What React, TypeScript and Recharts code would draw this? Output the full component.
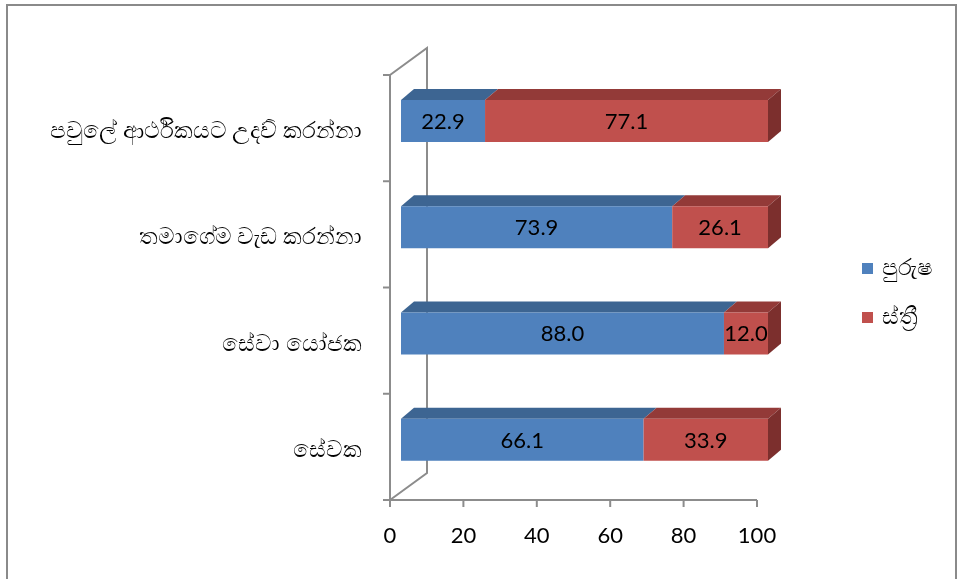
import { BarChart, Bar, XAxis, YAxis, LabelList, Customized } from "recharts";

const categories = [
  "පවුලේ ආර්ථිකයට උදව් කරන්නා",
  "තමාගේම වැඩ කරන්නා",
  "සේවා යෝජක",
  "සේවක",
];
const malePct = [22.9, 73.9, 88.0, 66.1];
const femalePct = [77.1, 26.1, 12.0, 33.9];
const seriesNames = ["පුරුෂ", "ස්ත්‍රී"];
const xTicks = [0, 20, 40, 60, 80, 100];

const data = categories.map((name, i) => ({ name, male: malePct[i], female: femalePct[i] }));

const W = 959;
const H = 579;
const margin = { top: 75, right: 202, bottom: 39, left: 0 };
const Y_AXIS_W = 390;
const X_AXIS_H = 40;
const plotLeft = margin.left + Y_AXIS_W;
const plotTop = margin.top;
const plotBottom = H - margin.bottom - X_AXIS_H;
const band = (plotBottom - plotTop) / categories.length;

// 3d look: bars sit a bit into the depth, back wall further
const FRONT_DX = 11;
const FRONT_DY = -7;
const DEPTH_X = 13;
const DEPTH_Y = -11;
const WALL_DX = 37;
const WALL_DY = -27;

const AXIS = "#8c8c8c";
const FONT = "Lato, 'Open Sans', sans-serif";

const blue = { front: "#4f81bd", top: "#3d6592", side: "#34577f" };
const red = { front: "#c0504d", top: "#933a38", side: "#7c2f2d" };

const make3DBar = (c: { front: string; top: string; side: string }, withSide: boolean) => (props: any) => {
  const { x, y, width, height } = props;
  if (!width || width <= 0) return <g />;
  const fx = x + FRONT_DX;
  const fy = y + FRONT_DY;
  return (
    <g>
      <polygon
        points={`${fx},${fy} ${fx + DEPTH_X},${fy + DEPTH_Y} ${fx + width + DEPTH_X},${fy + DEPTH_Y} ${fx + width},${fy}`}
        fill={c.top}
      />
      {withSide && (
        <polygon
          points={`${fx + width},${fy} ${fx + width + DEPTH_X},${fy + DEPTH_Y} ${fx + width + DEPTH_X},${fy + DEPTH_Y + height} ${fx + width},${fy + height}`}
          fill={c.side}
        />
      )}
      <rect x={fx} y={fy} width={width} height={height} fill={c.front} />
    </g>
  );
};

const renderValue = (props: any) => {
  const { x, y, width, height, value } = props;
  return (
    <text
      x={x + FRONT_DX + width / 2}
      y={y + FRONT_DY + height / 2}
      dy="0.36em"
      textAnchor="middle"
      fontSize={22}
      fontFamily={FONT}
      fill="#000"
    >
      {Number(value).toFixed(1)}
    </text>
  );
};

const CategoryTick = (props: any) => {
  const { y, payload, index } = props;
  const half = band / 2;
  return (
    <g>
      <line x1={plotLeft - 7} x2={plotLeft} y1={y - half} y2={y - half} stroke={AXIS} strokeWidth={2} />
      {index === categories.length - 1 && (
        <line x1={plotLeft - 7} x2={plotLeft} y1={y + half} y2={y + half} stroke={AXIS} strokeWidth={2} />
      )}
      <text x={plotLeft - 28} y={y + 2} dy="0.35em" textAnchor="end" fontSize={23} fill="#000">
        {payload.value}
      </text>
    </g>
  );
};

const Walls = () => (
  <polyline
    points={`${plotLeft},${plotTop} ${plotLeft + WALL_DX},${plotTop + WALL_DY} ${plotLeft + WALL_DX},${plotBottom + WALL_DY} ${plotLeft},${plotBottom}`}
    stroke={AXIS}
    strokeWidth={2}
    fill="none"
  />
);

const ChartLegend = () => (
  <div style={{ position: "fixed", left: 862, top: 253 }}>
    {seriesNames.map((n, i) => (
      <div key={n} style={{ display: "flex", alignItems: "center", height: 30, marginBottom: 19 }}>
        <span
          style={{
            width: 11,
            height: 11,
            background: i === 0 ? blue.front : red.front,
            marginRight: 9,
            display: "inline-block",
          }}
        />
        <span style={{ fontSize: 23, color: "#000" }}>{n}</span>
      </div>
    ))}
  </div>
);

export default function App() {
  return (
    <>
      <div
        style={{
          position: "fixed",
          left: 6,
          top: 4,
          width: 951,
          height: 620,
          border: "2px solid #8a8a8a",
          boxSizing: "border-box",
        }}
      />
      <div style={{ position: "fixed", left: 0, top: 0 }}>
        <BarChart width={W} height={H} data={data} layout="vertical" margin={margin}>
          <Customized component={Walls} />
          <XAxis
            type="number"
            domain={[0, 100]}
            ticks={xTicks}
            height={X_AXIS_H}
            tickSize={7}
            tickMargin={20}
            axisLine={{ stroke: AXIS, strokeWidth: 2 }}
            tickLine={{ stroke: AXIS, strokeWidth: 2 }}
            tick={{ fontSize: 22, fill: "#000", fontFamily: FONT }}
          />
          <YAxis
            type="category"
            dataKey="name"
            width={Y_AXIS_W}
            interval={0}
            tickSize={7}
            tickMargin={21}
            tickLine={false}
            axisLine={{ stroke: AXIS, strokeWidth: 2 }}
            tick={<CategoryTick />}
          />
          <Bar dataKey="male" name={seriesNames[0]} stackId="s" barSize={42} fill={blue.front} shape={make3DBar(blue, false)} isAnimationActive={false}>
            <LabelList dataKey="male" content={renderValue} />
          </Bar>
          <Bar dataKey="female" name={seriesNames[1]} stackId="s" barSize={42} fill={red.front} shape={make3DBar(red, true)} isAnimationActive={false}>
            <LabelList dataKey="female" content={renderValue} />
          </Bar>
        </BarChart>
      </div>
      <ChartLegend />
    </>
  );
}
